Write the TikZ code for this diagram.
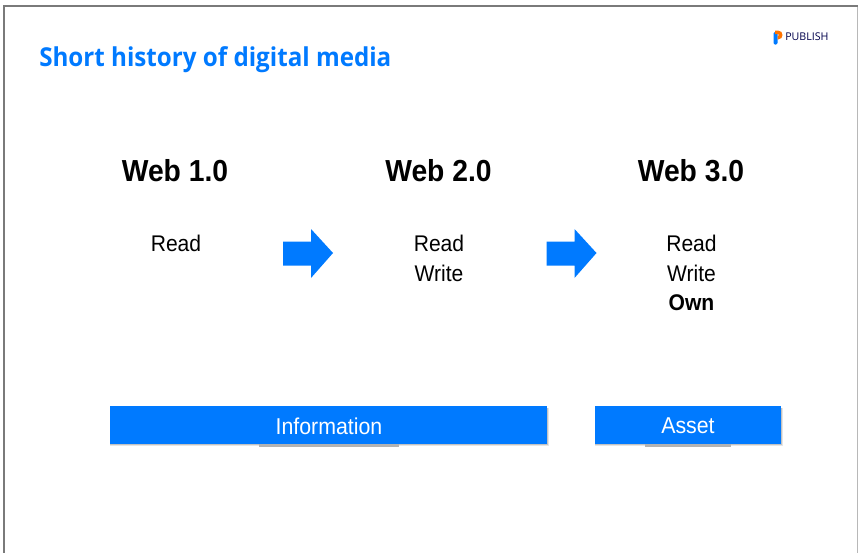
\documentclass[tikz,border=0pt]{standalone}
\usepackage{fontspec}
\setmainfont{Liberation Sans}[FakeStretch=0.93]
\newfontfamily\titlefont{Open Sans}[FakeStretch=0.93]
\newfontfamily\logofont{Open Sans}
\definecolor{mblue}{RGB}{0,122,255}
\tikzset{
  x=0.75pt,y=-0.75pt,
  head/.style={font=\bfseries\fontsize{22.8}{28}\selectfont,text=black,inner sep=0pt,anchor=center},
  item/.style={font=\fontsize{17}{22.1}\selectfont,text=black,inner sep=0pt,align=center,anchor=north},
  barlabel/.style={font=\fontsize{17.2}{22}\selectfont,text=white,inner sep=0pt},
  arrowshape/.style={fill=mblue,draw=none},
  softshadow/.style={fill=black!10,draw=none},
  midshadow/.style={fill=black!24,draw=none},
  strip/.style={fill=black!30,draw=none}
}
\begin{document}
\begin{tikzpicture}
\useasboundingbox (0,0) rectangle (858,553);
\fill[white] (0,0) rectangle (858,553);
% frame
\fill[black!52] (3,5) rectangle (858,7);
\fill[black!52] (3,5) rectangle (5,553);
\fill[black!28] (856.5,7) rectangle (858,553);
% title
\node[anchor=west,inner sep=0pt,text=mblue,font=\titlefont\bfseries\fontsize{19.5}{24}\selectfont] (title) at (39,59.5) {Short history of digital media};
% logo
\fill[mblue,rounded corners=1pt] (773.5,32) rectangle (777.5,44.5);
\fill[orange!90!red] (775,30.5) -- (778,30.5) .. controls (784,30.5) and (784,39.5) .. (778,39.5) -- (777.5,39.5) -- (777.5,36) .. controls (780,36) and (780,34) .. (777.5,34) -- (775,34) -- cycle;
\node[anchor=west,inner sep=0pt,text=black!70!blue,font=\logofont\fontsize{8}{10}\selectfont] (logo) at (785,36.5) {PUBLISH};
% headings
\node[head] (w1) at (175,171) {Web 1.0};
\node[head] (w2) at (438.5,171) {Web 2.0};
\node[head] (w3) at (691,171) {Web 3.0};
% items
\node[item] (r1) at (176,235) {Read};
\node[item] (r2) at (439,235) {Read\\Write};
\node[item] (r3) at (691.5,235) {Read\\Write\\\textbf{Own}};
% arrows
\fill[arrowshape] (283,241.5) -- (311,241.5) -- (311,229) -- (333,253) -- (311,278) -- (311,265.5) -- (283,265.5) -- cycle;
\fill[arrowshape] (546.5,241.5) -- (574.5,241.5) -- (574.5,229) -- (596.5,253) -- (574.5,278) -- (574.5,265.5) -- (546.5,265.5) -- cycle;
% bars
\fill[softshadow] (110,444) rectangle (549,446);
\fill[softshadow] (547,408) rectangle (549,446);
\fill[midshadow] (110,444) rectangle (548,445);
\fill[midshadow] (547,408) rectangle (548,445);
\fill[strip] (259,444) rectangle (399,447);
\fill[softshadow] (595,444) rectangle (783,446);
\fill[softshadow] (781,408) rectangle (783,446);
\fill[midshadow] (595,444) rectangle (782,445);
\fill[midshadow] (781,408) rectangle (782,445);
\fill[strip] (645,444) rectangle (731,447);
\fill[mblue] (110,406) rectangle (547,444);
\fill[mblue] (595,406) rectangle (781,444);
\node[barlabel] (info) at (329,426) {Information};
\node[barlabel] (asset) at (688,426) {Asset};
\end{tikzpicture}
\end{document}
